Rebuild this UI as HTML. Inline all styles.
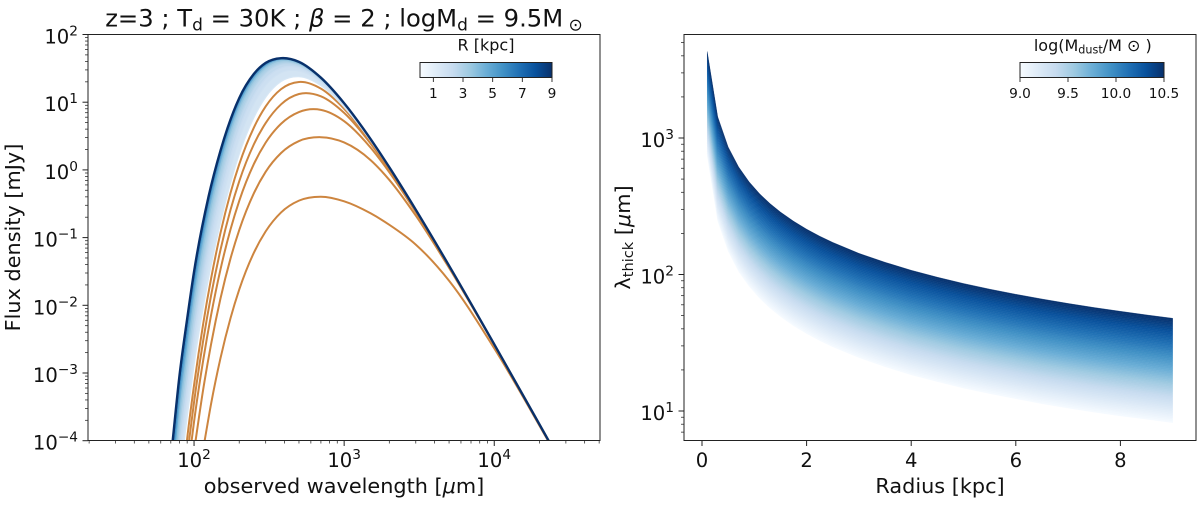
<!DOCTYPE html>
<html lang="en">
<head>
<meta charset="utf-8">
<title>Dust SED and optically thick wavelength</title>
<style>
html,body{margin:0;padding:0;background:#fff;width:1200px;height:505px;overflow:hidden}
svg{display:block}
text{font-family:"DejaVu Sans","Liberation Sans",sans-serif;fill:#111}
</style>
</head>
<body>
<svg id="fig" xmlns="http://www.w3.org/2000/svg" width="1200" height="505" viewBox="0 0 1200 505">
  <defs>
    <clipPath id="clipL"><rect x="88" y="34.5" width="512" height="406"/></clipPath>
    <clipPath id="clipR"><rect x="684" y="34.5" width="512" height="406"/></clipPath>
    <linearGradient id="blues" x1="0" x2="1" y1="0" y2="0">
      <stop offset="0" stop-color="#f7fbff"/><stop offset="0.125" stop-color="#deebf7"/>
      <stop offset="0.25" stop-color="#c6dbef"/><stop offset="0.375" stop-color="#9ecae1"/>
      <stop offset="0.5" stop-color="#6baed6"/><stop offset="0.625" stop-color="#4292c6"/>
      <stop offset="0.75" stop-color="#2171b5"/><stop offset="0.875" stop-color="#08519c"/>
      <stop offset="1" stop-color="#08306b"/>
    </linearGradient>
  </defs>
  <rect x="0" y="0" width="1200" height="505" fill="#fff"/>

  <g id="sedCurves" clip-path="url(#clipL)"></g>
  <g id="thickBands" clip-path="url(#clipR)"></g>
  <g id="axesL"></g>
  <g id="axesR"></g>

  <rect x="88" y="34.5" width="512" height="406" fill="none" stroke="#222" stroke-width="1"/>
  <rect x="684" y="34.5" width="512" height="406" fill="none" stroke="#222" stroke-width="1"/>

  <text x="344" y="26.5" text-anchor="middle" font-size="24.25">z=3 ; T<tspan font-size="17" dy="3.8">d</tspan><tspan dy="-3.8"> = 30K ; </tspan><tspan font-style="italic">β</tspan> = 2 ; logM<tspan font-size="17" dy="3.8">d</tspan><tspan dy="-3.8"> = 9.5M</tspan><tspan font-size="17" dy="3.8"> ⊙</tspan></text>

  <text x="344" y="493" text-anchor="middle" font-size="20.8">observed wavelength [<tspan font-style="italic">μ</tspan>m]</text>
  <text transform="translate(20,237.5) rotate(-90)" text-anchor="middle" font-size="20.8">Flux density [mJy]</text>
  <text x="940" y="493" text-anchor="middle" font-size="20.8">Radius [kpc]</text>
  <text transform="translate(630,237.5) rotate(-90)" text-anchor="middle" font-size="20.8">λ<tspan font-size="14.6" dy="3.2">thick</tspan><tspan dy="-3.2"> [</tspan><tspan font-style="italic">μ</tspan>m]</text>

  <g id="cbL">
    <text x="486" y="50.5" text-anchor="middle" font-size="16">R [kpc]</text>
    <rect x="420" y="62.5" width="132" height="15" fill="url(#blues)" stroke="#222" stroke-width="1"/>
  </g>
  <g id="cbR">
    <text x="1092.8" y="51" text-anchor="middle" font-size="16">log(M<tspan font-size="11.2" dy="2.6">dust</tspan><tspan dy="-2.6">/M ⊙ )</tspan></text>
    <rect x="1020" y="62.5" width="144" height="15" fill="url(#blues)" stroke="#222" stroke-width="1"/>
  </g>
</svg>

<script>
// ---------- Left panel data: wavelength in micron, flux as log10(mJy) ----------
const blueWave = [70,80,90,100,125,150,200,250,300,380,500,700,1000,1500,2000,3000,5000,10000,25000];
const blueRadii = [1,1.3,1.6,2,2.5,3,4,5,7,9];
const blueR1   = [-5.885,-4.569,-3.649,-2.88,-1.601,-.781,.231,.769,1.073,1.305,1.377,1.245,.926,.429,.023,-.595,-1.417,-2.577,-4.141];
const blueR1p3 = [-5.658,-4.342,-3.421,-2.653,-1.374,-.554,.453,.97,1.246,1.435,1.462,1.293,.95,.44,.029,-.592,-1.416,-2.576,-4.141];
const blueR1p6 = [-5.477,-4.161,-3.241,-2.471,-1.194,-.375,.611,1.1,1.349,1.507,1.507,1.316,.962,.445,.032,-.591,-1.416,-2.576,-4.141];
const blueR2   = [-5.283,-3.966,-3.047,-2.279,-1.004,-.198,.752,1.206,1.429,1.561,1.539,1.333,.971,.449,.034,-.59,-1.416,-2.576,-4.141];
const blueR2p5 = [-5.089,-3.774,-2.855,-2.089,-.831,-.047,.858,1.281,1.484,1.596,1.561,1.344,.976,.452,.036,-.589,-1.415,-2.576,-4.141];
const blueR3   = [-4.933,-3.618,-2.704,-1.945,-.71,.049,.921,1.324,1.515,1.616,1.572,1.35,.979,.453,.036,-.589,-1.415,-2.576,-4.141];
const blueR4   = [-4.693,-3.394,-2.497,-1.758,-.567,.158,.988,1.368,1.546,1.636,1.584,1.356,.982,.454,.037,-.588,-1.415,-2.576,-4.141];
const blueR5   = [-4.533,-3.253,-2.375,-1.652,-.492,.213,1.02,1.39,1.561,1.645,1.589,1.359,.984,.455,.038,-.588,-1.415,-2.576,-4.141];
const blueR7   = [-4.356,-3.106,-2.252,-1.549,-.423,.262,1.049,1.408,1.574,1.653,1.594,1.361,.985,.456,.038,-.588,-1.415,-2.576,-4.141];
const blueR9   = [-4.27,-3.037,-2.197,-1.503,-.392,.284,1.061,1.416,1.58,1.65,1.596,1.362,.985,.456,.038,-.588,-1.415,-2.576,-4.141];

const orangeWave = [80,90,100,115,130,150,175,200,250,300,380,500,700,1000,1500,2000,3000,5000,10000,25000];
const orangeA = [-4.969,-3.968,-3.18,-2.276,-1.6,-.931,-.339,.082,.622,.937,1.193,1.299,1.2,.903,.418,.017,-.598,-1.418,-2.577,-4.141];
const orangeB = [-5.219,-4.218,-3.43,-2.525,-1.849,-1.181,-.589,-.168,.375,.692,.969,1.121,1.087,.842,.389,0,-.605,-1.421,-2.578,-4.141];
const orangeC = [-5.509,-4.507,-3.72,-2.814,-2.139,-1.47,-.879,-.458,.084,.403,.682,.855,.887,.72,.329,-.035,-.621,-1.427,-2.579,-4.141];
const orangeD = [-5.939,-4.939,-4.151,-3.246,-2.569,-1.9,-1.308,-.888,-.347,-.028,.25,.426,.483,.405,.145,-.148,-.675,-1.447,-2.584,-4.142];
const orangeE = [-6.82,-5.82,-5.03,-4.126,-3.449,-2.781,-2.189,-1.768,-1.226,-.908,-.628,-.454,-.396,-.464,-.641,-.811,-1.103,-1.637,-2.636,-4.151];

const sedXTickExponents = [2,3,4];
const sedYTickExponents = [2,1,0,-1,-2,-3,-4];
const radiusColorbarTicks = [1,3,5,7,9];

// ---------- Right panel data ----------
const radiusKpc = [.1,.3,.5,.7,.9,1.1,1.3,1.5,1.75,2,2.25,2.5,3,3.5,4,4.5,5,5.5,6,6.5,7,7.5,8,8.5,9];
const lambdaThickMax = [4300,1433,860,614,478,391,331,287,246,215,191,172,143,123,107.5,95.6,86,78.2,71.7,66.2,61.4,57.3,53.8,50.6,47.8];
const lambdaThickMin = [740,246,148,105,82,67,56.7,49.2,42.1,36.9,32.8,29.5,24.6,21.1,18.4,16.4,14.7,13.4,12.3,11.3,10.5,9.8,9.2,8.7,8.2];
const radiusTicks = [0,2,4,6,8];
const thickYTickExponents = [3,2,1];
const massColorbarTicks = ["9.0","9.5","10.0","10.5"];

// ---------- Axis functions ----------
const SVGNS = "http://www.w3.org/2000/svg";
const xSed = l => 88 + (Math.log10(l) - 1.2935) / (4.7045 - 1.2935) * 512;
const xSedLog = v => 88 + (v - 1.2935) / (4.7045 - 1.2935) * 512;
const ySedLog = v => 34.5 + (2 - v) * 67.7;
const xRad = r => 702 + r * 52.3;
const yThickLog = v => 138 + (3 - v) * 136.5;
const cbRadiusX = v => 420 + (v - 0.1) * 14.83;
const cbMassX = v => 1020 + (v - 9) * 96;

function mk(tag, attrs, parent) {
  const el = document.createElementNS(SVGNS, tag);
  for (const k in attrs) el.setAttribute(k, attrs[k]);
  parent.appendChild(el);
  return el;
}
const bluesStops = [[247,251,255],[222,235,247],[198,219,239],[158,202,225],[107,174,214],[66,146,198],[33,113,181],[8,81,156],[8,48,107]];
function blues(t) {
  t = Math.max(0, Math.min(1, t)) * 8;
  const i = Math.min(7, Math.floor(t)), f = t - i;
  const c = bluesStops[i].map((a, k) => Math.round(a + (bluesStops[i + 1][k] - a) * f));
  return "rgb(" + c.join(",") + ")";
}
// Cubic Hermite path with knot-spacing-aware tangents.
function spline(pts, move) {
  const n = pts.length, m = new Array(n);
  for (let i = 0; i < n; i++) {
    if (i === 0) m[i] = (pts[1][1] - pts[0][1]) / (pts[1][0] - pts[0][0]);
    else if (i === n - 1) m[i] = (pts[i][1] - pts[i - 1][1]) / (pts[i][0] - pts[i - 1][0]);
    else {
      const h0 = pts[i][0] - pts[i - 1][0], h1 = pts[i + 1][0] - pts[i][0];
      const s0 = (pts[i][1] - pts[i - 1][1]) / h0, s1 = (pts[i + 1][1] - pts[i][1]) / h1;
      m[i] = (s0 * h1 + s1 * h0) / (h0 + h1);
    }
  }
  let d = (move ? "M" : "L") + pts[0][0].toFixed(2) + " " + pts[0][1].toFixed(2);
  for (let i = 0; i < n - 1; i++) {
    const h = pts[i + 1][0] - pts[i][0];
    d += "C" + (pts[i][0] + h / 3).toFixed(2) + " " + (pts[i][1] + m[i] * h / 3).toFixed(2) + " " +
         (pts[i + 1][0] - h / 3).toFixed(2) + " " + (pts[i + 1][1] - m[i + 1] * h / 3).toFixed(2) + " " +
         pts[i + 1][0].toFixed(2) + " " + pts[i + 1][1].toFixed(2);
  }
  return d;
}
// Converts a series to pixels and stops the rising edge just below the x axis.
function sedPoints(wave, logFlux) {
  const pts = wave.map((l, i) => [xSed(l), ySedLog(logFlux[i])]);
  const floorY = 443;
  let first = 0;
  while (first < pts.length - 1 && pts[first + 1][1] > floorY) first++;
  const out = pts.slice(first);
  if (out[0][1] > floorY) {
    const a = out[0], b = out[1], f = (a[1] - floorY) / (a[1] - b[1]);
    out[0] = [a[0] + (b[0] - a[0]) * f, floorY];
  }
  return out;
}
function powerLabel(parent, x, y, anchor, exponent) {
  const t = mk("text", {x: x, y: y, "text-anchor": anchor, "font-size": 19.6}, parent);
  t.appendChild(document.createTextNode("10"));
  const s = mk("tspan", {"font-size": 13.7, dy: -8}, t);
  s.textContent = String(exponent).replace("-", "\u2212");
  return t;
}

// ---------- Left panel marks ----------
const sedG = document.getElementById("sedCurves");
[orangeA, orangeB, orangeC, orangeD, orangeE].forEach(series => {
  const p = mk("path", {d: spline(sedPoints(orangeWave, series), true), fill: "none", stroke: "#cd853f", "stroke-width": 2}, sedG);
  
  
});
const blueSeries = [blueR1, blueR1p3, blueR1p6, blueR2, blueR2p5, blueR3, blueR4, blueR5, blueR7, blueR9];
const rT = r => Math.pow((r - 0.1) / 8.9, 0.8);
for (let i = 0; i < blueSeries.length - 1; i++) {
  const lo = sedPoints(blueWave, blueSeries[i]);
  const hi = sedPoints(blueWave, blueSeries[i + 1]).reverse();
  const mid = (blueRadii[i] + blueRadii[i + 1]) / 2;
  const band = mk("path", {d: spline(lo, true) + spline(hi, false) + "Z", fill: blues(rT(mid)), stroke: blues(rT(mid)), "stroke-width": 0.4}, sedG);
  
  
}
blueSeries.forEach((series, i) => {
  const last = i === blueSeries.length - 1;
  const p = mk("path", {d: spline(sedPoints(blueWave, series), true), fill: "none", stroke: blues(rT(blueRadii[i])), "stroke-width": last ? 2.4 : 1.2}, sedG);
  
  
});

// ---------- Left panel axes ----------
const axL = document.getElementById("axesL");
sedXTickExponents.forEach(e => {
  const x = xSedLog(e);
  const tk = mk("line", {x1: x, x2: x, y1: 440.5, y2: 446, stroke: "#222", "stroke-width": 1}, axL);
  
  
  const lb = powerLabel(axL, x, 467, "middle", e);
  
  
});
sedYTickExponents.forEach(e => {
  const y = ySedLog(e);
  const tk = mk("line", {x1: 82.5, x2: 88, y1: y, y2: y, stroke: "#222", "stroke-width": 1}, axL);
  
  
  const lb = powerLabel(axL, 78, y + 9, "end", e);
  
  
});
for (let d = 1; d <= 4; d++) for (let k = 2; k <= 9; k++) {
  const v = d + Math.log10(k);
  if (v < 1.2935 || v > 4.7045) continue;
  const x = xSedLog(v);
  const m = mk("line", {x1: x, x2: x, y1: 440.5, y2: 443.5, stroke: "#333", "stroke-width": 0.8}, axL);
  
  
}
for (let d = -4; d <= 1; d++) for (let k = 2; k <= 9; k++) {
  const y = ySedLog(d + Math.log10(k));
  const m = mk("line", {x1: 85, x2: 88, y1: y, y2: y, stroke: "#333", "stroke-width": 0.8}, axL);
  
  
}

// ---------- Right panel marks ----------
const thickG = document.getElementById("thickBands");
const bandCount = 64;
for (let b = 0; b < bandCount; b++) {
  const f0 = b / bandCount, f1 = (b + 1) / bandCount;
  const at = (i, f) => {
    const lo = Math.log10(lambdaThickMin[i]), hi = Math.log10(lambdaThickMax[i]);
    return yThickLog(lo + (hi - lo) * f);
  };
  let d = "";
  radiusKpc.forEach((r, i) => { d += (i ? "L" : "M") + xRad(r).toFixed(2) + " " + at(i, f0).toFixed(2); });
  for (let i = radiusKpc.length - 1; i >= 0; i--) d += "L" + xRad(radiusKpc[i]).toFixed(2) + " " + at(i, f1).toFixed(2);
  const col = blues((b + 0.5) / bandCount);
  const p = mk("path", {d: d + "Z", fill: col, stroke: col, "stroke-width": 0.3}, thickG);
  
  
}

// ---------- Right panel axes ----------
const axR = document.getElementById("axesR");
radiusTicks.forEach(r => {
  const x = xRad(r);
  const tk = mk("line", {x1: x, x2: x, y1: 440.5, y2: 446, stroke: "#222", "stroke-width": 1}, axR);
  
  
  const lb = mk("text", {x: x, y: 467, "text-anchor": "middle", "font-size": 19.6}, axR);
  lb.textContent = r;
  
  
});
thickYTickExponents.forEach(e => {
  const y = yThickLog(e);
  const tk = mk("line", {x1: 678.5, x2: 684, y1: y, y2: y, stroke: "#222", "stroke-width": 1}, axR);
  
  
  const lb = powerLabel(axR, 674, y + 9, "end", e);
  
  
});
for (let d = 0; d <= 3; d++) for (let k = 2; k <= 9; k++) {
  const v = d + Math.log10(k);
  if (v < 0.782 || v > 3.76) continue;
  const y = yThickLog(v);
  const m = mk("line", {x1: 681, x2: 684, y1: y, y2: y, stroke: "#333", "stroke-width": 0.8}, axR);
  
  
}

// ---------- Colorbar ticks ----------
const cbL = document.getElementById("cbL");
radiusColorbarTicks.forEach(v => {
  const x = cbRadiusX(v);
  const tk = mk("line", {x1: x, x2: x, y1: 77.5, y2: 82, stroke: "#222", "stroke-width": 0.9}, cbL);
  
  
  const lb = mk("text", {x: x, y: 98, "text-anchor": "middle", "font-size": 13.7}, cbL);
  lb.textContent = v;
  
  
});
const cbR = document.getElementById("cbR");
massColorbarTicks.forEach(v => {
  const x = cbMassX(parseFloat(v));
  const tk = mk("line", {x1: x, x2: x, y1: 77.5, y2: 82, stroke: "#222", "stroke-width": 0.9}, cbR);
  
  
  const lb = mk("text", {x: x, y: 98, "text-anchor": "middle", "font-size": 13.7}, cbR);
  lb.textContent = v;
  
  
});
</script>
</body>
</html>
